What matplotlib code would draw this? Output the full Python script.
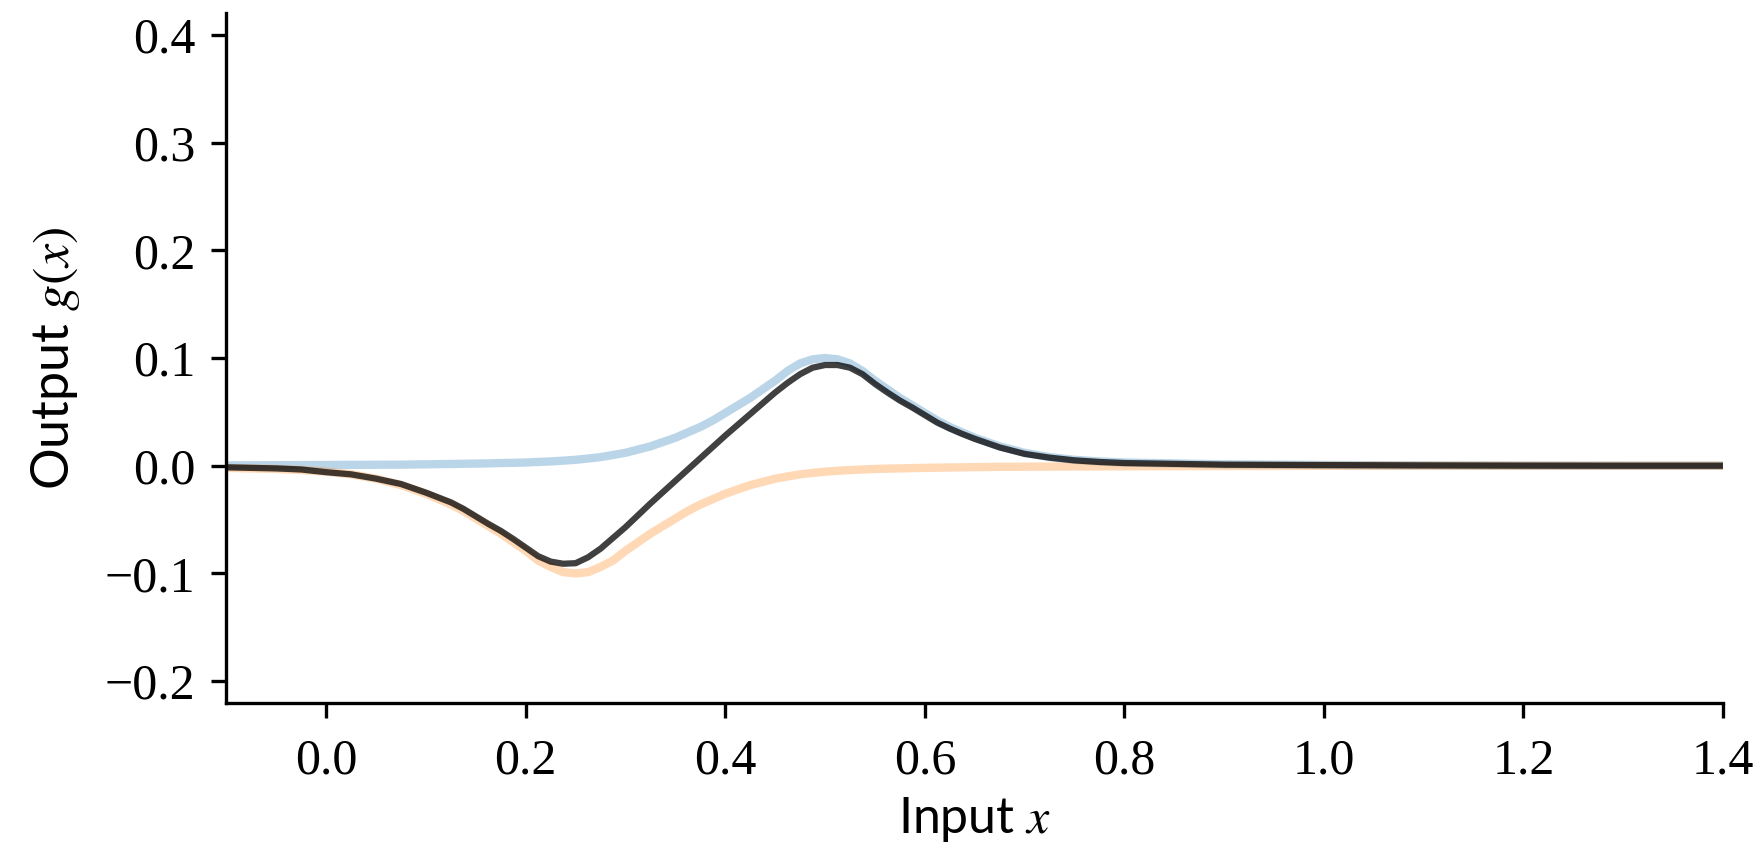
import matplotlib
matplotlib.use("Agg")
import matplotlib.pyplot as plt

# values (finer steps where the curves bend)
x = [-0.1, -0.075, -0.05, -0.025, 0.0, 0.025, 0.05, 0.075,
     0.1, 0.1125, 0.125, 0.1375, 0.15, 0.1625, 0.175, 0.1875, 0.2, 0.2125,
     0.225, 0.2375, 0.25, 0.2625, 0.275, 0.2875, 0.3, 0.3125, 0.325, 0.3375,
     0.35, 0.3625, 0.375, 0.3875, 0.4, 0.4125, 0.425, 0.4375, 0.45, 0.4625,
     0.475, 0.4875, 0.5, 0.5125, 0.525, 0.5375, 0.55, 0.5625, 0.575, 0.5875,
     0.6, 0.6125, 0.625, 0.6375, 0.65, 0.6625, 0.675, 0.6875, 0.7,
     0.725, 0.75, 0.775, 0.8, 0.9, 1.0, 1.1, 1.2, 1.3, 1.4]

bump_pos = [0.0003, 0.0004, 0.0005, 0.0006, 0.0007, 0.0008, 0.0009, 0.001,
            0.0013, 0.0015, 0.0016, 0.0018, 0.002, 0.0022, 0.0025, 0.0027, 0.003, 0.0035,
            0.004, 0.0047, 0.0055, 0.0067, 0.008, 0.010, 0.012, 0.015, 0.018, 0.022,
            0.026, 0.031, 0.036, 0.042, 0.049, 0.056, 0.063, 0.071, 0.079, 0.088,
            0.095, 0.0988, 0.100, 0.0988, 0.095, 0.088, 0.079, 0.071, 0.063, 0.056,
            0.049, 0.042, 0.036, 0.031, 0.026, 0.022, 0.018, 0.015, 0.012,
            0.008, 0.0055, 0.004, 0.003, 0.0013, 0.0007, 0.0003, 0.0001, 0.0, 0.0]

bump_neg = [-0.002, -0.0025, -0.003, -0.004, -0.0055, -0.008, -0.012, -0.018,
            -0.026, -0.031, -0.036, -0.042, -0.049, -0.056, -0.063, -0.071, -0.079, -0.088,
            -0.094, -0.0988, -0.100, -0.0988, -0.094, -0.088, -0.079, -0.071, -0.063, -0.056,
            -0.049, -0.042, -0.036, -0.031, -0.026, -0.022, -0.018, -0.015, -0.012, -0.010,
            -0.008, -0.0067, -0.0055, -0.0047, -0.004, -0.0035, -0.003, -0.0027, -0.0025, -0.0022,
            -0.002, -0.0018, -0.0016, -0.0015, -0.0013, -0.0012, -0.001, -0.001, -0.0009,
            -0.0008, -0.0007, -0.0006, -0.0005, -0.0003, -0.0001, 0.0, 0.0, 0.0, 0.0]

g = [-0.0015, -0.002, -0.0025, -0.0035, -0.006, -0.008, -0.012, -0.017,
     -0.025, -0.0295, -0.034, -0.040, -0.047, -0.054, -0.0605, -0.068, -0.076, -0.084,
     -0.089, -0.091, -0.0905, -0.085, -0.077, -0.067, -0.057, -0.046, -0.035, -0.0245,
     -0.014, -0.0035, 0.007, 0.0175, 0.028, 0.038, 0.048, 0.058, 0.068, 0.077,
     0.085, 0.091, 0.0935, 0.0935, 0.091, 0.085, 0.076, 0.068, 0.0605, 0.054,
     0.047, 0.040, 0.0345, 0.0295, 0.025, 0.021, 0.017, 0.014, 0.011,
     0.0075, 0.005, 0.0035, 0.0025, 0.001, 0.0006, 0.0003, 0.0001, 0.0, 0.0]

xticks = [0.0, 0.2, 0.4, 0.6, 0.8, 1.0, 1.2, 1.4]
yticks = [-0.2, -0.1, 0.0, 0.1, 0.2, 0.3, 0.4]

plt.rcParams["mathtext.fontset"] = "stix"

fig = plt.figure(figsize=(1754 / 300, 847 / 300), dpi=300)
ax = fig.add_axes([0.1291, 0.1704, 0.9823 - 0.1291, 0.9842 - 0.1704])

ax.plot(x, bump_pos, color="tab:blue", alpha=0.3, lw=2.0)
ax.plot(x, bump_neg, color="tab:orange", alpha=0.3, lw=2.0)
ax.plot(x, g, color="k", alpha=0.75, lw=1.5)

ax.set_xlim(-0.1, 1.4)
ax.set_ylim(-0.22, 0.42)
ax.set_xticks(xticks)
ax.set_yticks(yticks)
ax.set_xticklabels([f"{t:.1f}" for t in xticks], family="Liberation Serif", fontsize=12)
ax.set_yticklabels([f"{t:.1f}".replace("-", "\u2212") for t in yticks],
                   family="Liberation Serif", fontsize=12)
ax.tick_params(axis="x", pad=5)
ax.tick_params(axis="y", pad=4)

ax.spines["top"].set_visible(False)
ax.spines["right"].set_visible(False)

ax.set_xlabel(r"Input $x$", family="Lato", fontsize=12, labelpad=2.5)
ax.set_ylabel(r"Output $g(x)$", family="Lato", fontsize=12.5, labelpad=5.5)

fig.savefig("out.png", dpi=300)
